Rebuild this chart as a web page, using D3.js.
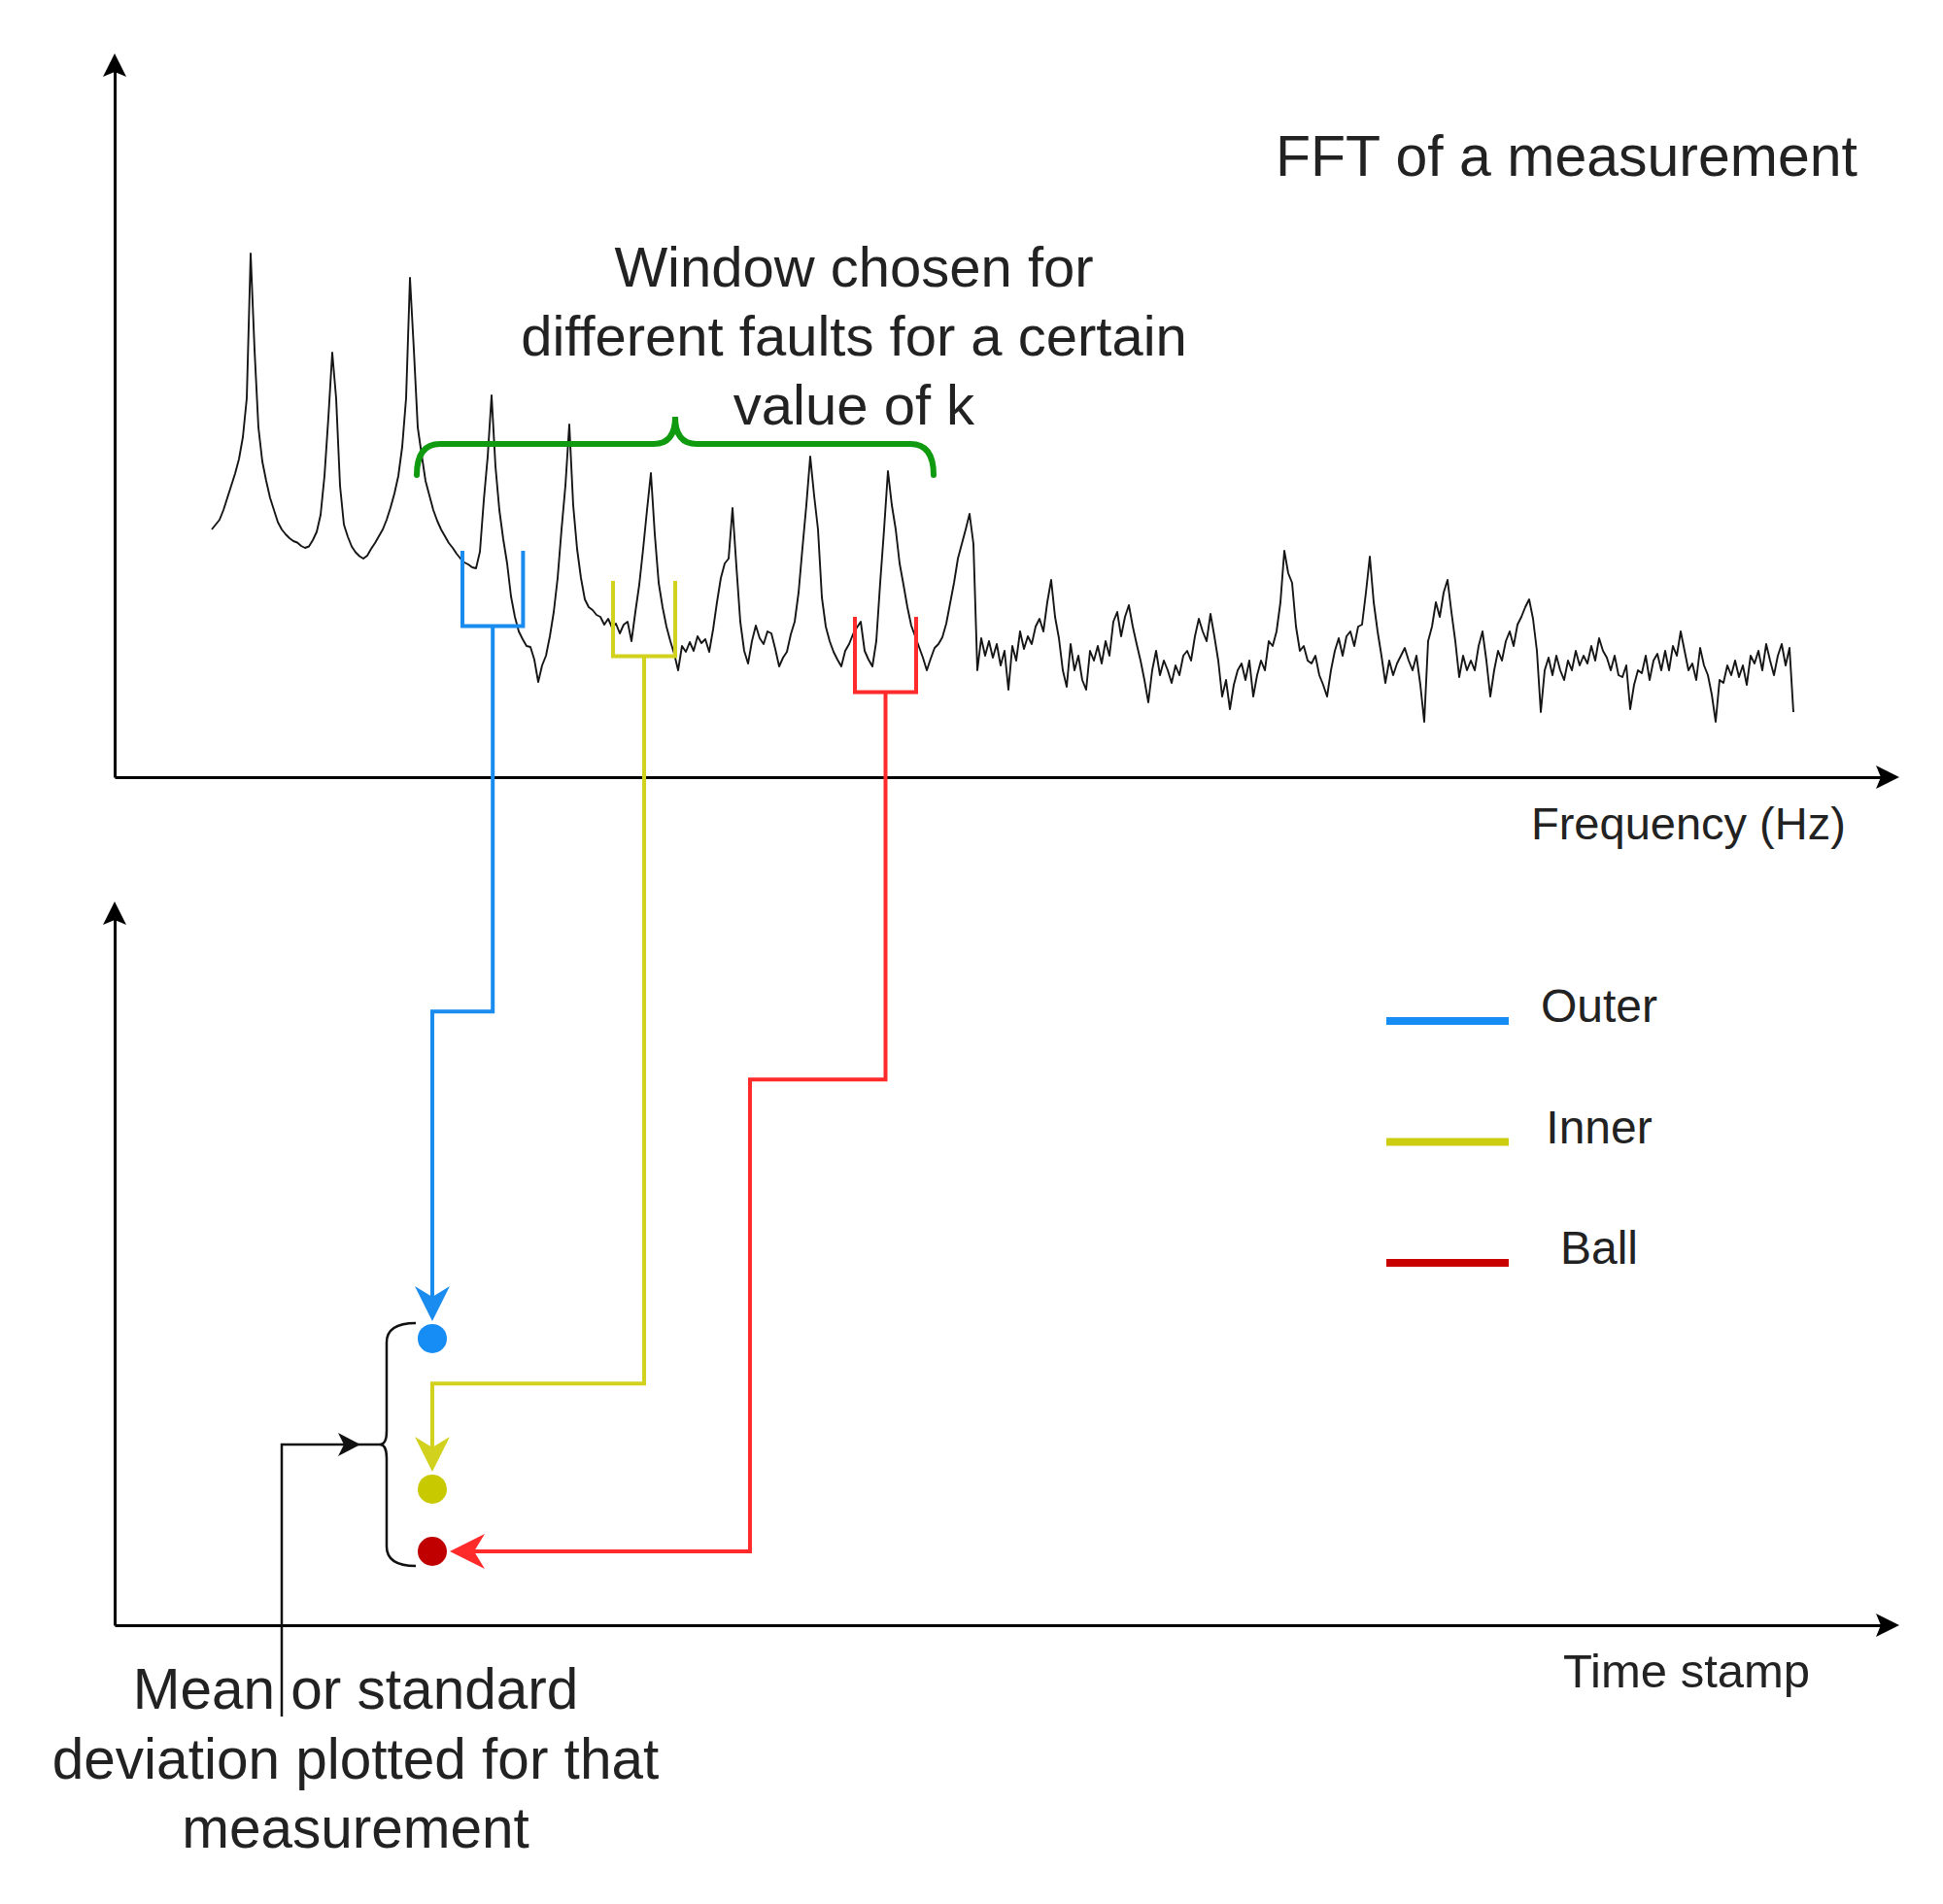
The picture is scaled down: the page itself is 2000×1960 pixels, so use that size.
<!DOCTYPE html>
<html>
<head>
<meta charset="utf-8">
<script src="https://cdn.jsdelivr.net/npm/d3@7"></script>
<style>
  body { margin: 0; background: #fff; }
  text { font-family: "Liberation Sans", Arial, sans-serif; fill: #222; }
</style>
</head>
<body>
<svg width="2000" height="1960"></svg>
<script>
// ---------- DATA ----------
// FFT amplitude, one sample per Hz starting at freqStart
const freqStart = 25;
const amplitude = [
  51, 52, 53, 55, 57.5, 60, 62.5, 65.5, 70, 78,                 // 25
  107.8, 88, 72, 65, 61, 57.5, 55, 52.5, 51, 50,                // 35
  49.2, 48.6, 48.3, 47.6, 47.2, 47.5, 48.8, 50.5, 54, 62,       // 45
  74, 87.4, 78, 60, 52, 49.5, 47.5, 46.3, 45.5, 45,             // 55
  45.6, 47, 48.2, 49.6, 51, 53, 55.5, 58.4, 62, 68,             // 65
  78, 102.8, 88, 72, 66.4, 61, 58, 55, 52.8, 51,                // 75
  49.6, 48.2, 47.2, 46, 45, 44.2, 43.8, 43.2, 43, 46.4,         // 85
  57, 66, 78.6, 64, 55, 49, 44, 37.2, 33, 30,                   // 95
  28.4, 27, 26.8, 24.2, 19.6, 23, 25, 29, 34, 41,               // 105
  51, 60, 72.6, 56, 47, 41, 36.6, 35, 34.4, 33.4,               // 115
  33, 31.4, 32.6, 30.8, 31.6, 29.6, 31.4, 32, 28, 34,           // 125
  39.6, 47, 55, 62.6, 50, 40, 35, 31, 28, 25.4,                 // 135
  22, 27, 25.8, 27.8, 26, 29, 27.6, 28.4, 25.8, 30.4,           // 145
  36, 41, 44, 45, 55.4, 43.4, 32, 26, 23.4, 28,                 // 155
  31.2, 28.6, 27.4, 30, 29.6, 26.4, 22.8, 24.6, 25.8, 29.4,     // 165
  32, 38, 47.2, 56, 66, 58, 51, 37, 31, 28,                     // 175
  25.8, 24.2, 22.8, 26, 27.4, 29.4, 30.8, 32, 26, 24.2,         // 185
  22.8, 28, 40, 51, 63, 56, 51, 44, 39.6, 35,                   // 195
  31.2, 29, 26.8, 24.6, 22, 24.4, 26.6, 27.4, 28.8, 31.6,       // 205
  35.8, 40, 45, 48, 51, 54.2, 48, 22, 28.6, 25,                 // 215
  28, 24.6, 27.4, 23, 26, 18, 27, 24, 30, 26.4,                 // 225
  29, 27.4, 31, 32.6, 30, 36, 40.6, 33, 28.6, 22,               // 235
  18.6, 27.4, 22, 25, 20, 18, 26, 24, 27, 23.4,                 // 245
  28, 25, 32, 34, 29, 33, 35.4, 31, 27.4, 24,                   // 255
  20, 15.4, 22, 26, 21, 24, 22, 19.4, 23, 21,                   // 265
  25, 26, 24, 29, 32.6, 30, 28, 33.6, 29, 24,                   // 275
  16.6, 20, 14, 19, 22, 23.4, 20, 24, 16.6, 21,                 // 285
  24, 22, 28, 27, 30, 36, 46.6, 42, 40, 31,                     // 295
  26, 27, 24, 23.4, 25, 21, 19, 16.6, 22, 26,                   // 305
  28.6, 25, 29, 30, 27, 31, 31.4, 38, 45.4, 36,                 // 315
  30, 25, 19.4, 24, 21, 23.4, 25, 26.6, 24, 22,                 // 325
  25, 19, 11.4, 28, 31, 36, 33, 38, 40.6, 34,                   // 335
  28, 20.6, 25, 22, 24, 22, 27, 30, 24, 16.6,                   // 345
  22, 26, 24, 28, 30, 27, 31.4, 33, 35, 36.6,                   // 355
  32.6, 26, 13.4, 22, 24.6, 21, 25, 22, 20, 24,                 // 365
  22, 26, 23, 25, 23.4, 27, 24, 28.6, 26, 24.6,                 // 375
  22, 25, 21, 20.6, 23, 14, 19, 22, 21.4, 25,                   // 385
  20, 24, 25.4, 22, 26, 22, 27, 25, 30, 26,                     // 395
  22, 23.4, 20, 26.6, 23, 21, 17, 11.4, 20, 19.4,               // 405
  23, 21, 24, 20.6, 23, 19, 25, 23.4, 26, 22,                   // 415
  27.4, 24, 21, 25, 27.4, 23, 26.6, 13.4                        // 425
];

// fault windows (Hz) and the value plotted for that measurement
const faults = ['Outer', 'Inner', 'Ball'];
const lineColors = ['#1a8cf0', '#d2d21e', '#ff2a2a'];
const dotColors = ['#168cf5', '#c9c900', '#c00000'];
const legendColors = ['#168cf5', '#cccc10', '#c80000'];
const windowLo = [89.5, 128.25, 190.5];
const windowHi = [105.1, 144.25, 206.25];
const windowTop = [46.6, 40.4, 33];      // amplitude where the window arms start
const measurementTime = 17.8;
const faultValues = [39.6, 18.8, 10.2];

// ---------- SETUP ----------
const svg = d3.select('svg');
svg.append('rect').attr('width', 2000).attr('height', 1960).attr('fill', '#fff');

const x = d3.scaleLinear().domain([0, 459.25]).range([118, 1955]);
const y = d3.scaleLinear().domain([0, 149]).range([800, 55]);
const t = d3.scaleLinear().domain([0, 100]).range([118, 1955]);
const v = d3.scaleLinear().domain([0, 100]).range([1673, 928]);

// arrow head pointing along angle (deg), tip at (tx, ty)
function arrowHead(g, tx, ty, angle, len, half, notch, color) {
    g.append('path')
        .attr('d', `M0,0 L${-len},${-half} L${-len + notch},0 L${-len},${half} Z`)
        .attr('transform', `translate(${tx},${ty}) rotate(${angle})`)
        .attr('fill', color);
}

// ---------- AXES ----------
const axesG = svg.append('g');
function drawAxes(xs, ys, x0, y0) {
    axesG.append('g')
        .attr('transform', `translate(0,${y0})`)
        .call(d3.axisBottom(xs).tickValues([]).tickSizeOuter(0));
    axesG.append('g')
        .attr('transform', `translate(${x0},0)`)
        .call(d3.axisLeft(ys).tickValues([]).tickSizeOuter(0));
}
drawAxes(d3.scaleLinear().range([x(0), x(459.25) - 16]),
         d3.scaleLinear().range([y(0), y(149) + 16]), x(0), y(0));
drawAxes(d3.scaleLinear().range([t(0), t(100) - 16]),
         d3.scaleLinear().range([v(0), v(100) + 16]), t(0), v(0));
axesG.selectAll('path.domain').attr('stroke', '#000').attr('stroke-width', 3);
arrowHead(axesG, x(459.25), y(0), 0, 24, 12, 5, '#000');
arrowHead(axesG, x(0), y(149), -90, 24, 12, 5, '#000');
arrowHead(axesG, t(100), v(0), 0, 24, 12, 5, '#000');
arrowHead(axesG, t(0), v(100), -90, 24, 12, 5, '#000');

// ---------- SPECTRUM ----------
const line = d3.line()
    .x((d, i) => x(freqStart + i))
    .y(d => y(d));
svg.append('path')
    .datum(amplitude)
    .attr('d', line)
    .attr('fill', 'none')
    .attr('stroke', '#151515')
    .attr('stroke-width', 1.9)
    .attr('stroke-linejoin', 'round');

// ---------- GREEN BRACE over the windows ----------
const bL = x(77.75), bR = x(210.75), bM = (bL + bR) / 2;
const bY = y(68.6), bEnd = y(62.2), bTip = y(74.2);
svg.append('path')
    .attr('d', `M${bL},${bEnd} Q${bL},${bY} ${bL + 24},${bY} L${bM - 22},${bY} ` +
               `Q${bM},${bY} ${bM},${bTip} Q${bM},${bY} ${bM + 22},${bY} ` +
               `L${bR - 24},${bY} Q${bR},${bY} ${bR},${bEnd}`)
    .attr('fill', 'none')
    .attr('stroke', '#0f9a0f')
    .attr('stroke-width', 6)
    .attr('stroke-linecap', 'round');

// ---------- WINDOWS + ROUTES ----------
const depth = 15.5; // amplitude units between arm top and bar
// where each connector turns (bottom-plot units)
const routes = [
    [{ v: 84.8 }],
    [{ v: 33.4 }],
    [{ v: 75.4 }, { t: 35.6 }]
];
const dotX = t(measurementTime);
const r = 15;

faults.forEach((f, i) => {
    const g = svg.append('g');
    const c = lineColors[i];
    const lo = x(windowLo[i]), hi = x(windowHi[i]);
    const top = y(windowTop[i]), bar = y(windowTop[i] - depth);
    const mid = (lo + hi) / 2;
    g.append('path')
        .attr('d', `M${lo},${top} L${lo},${bar} L${hi},${bar} L${hi},${top}`)
        .attr('fill', 'none').attr('stroke', c).attr('stroke-width', 4);

    const dotY = v(faultValues[i]);
    const pts = [[mid, bar]];
    const rt = routes[i];
    let arrow;
    if (i < 2) {
        const ry = v(rt[0].v);
        pts.push([mid, ry], [dotX, ry], [dotX, dotY - r - 28]);
        arrow = [dotX, dotY - r - 3, 90];
    } else {
        const ry = v(rt[0].v), rx = t(rt[1].t);
        pts.push([mid, ry], [rx, ry], [rx, dotY], [dotX + r + 28, dotY]);
        arrow = [dotX + r + 3, dotY, 180];
    }
    g.append('path')
        .attr('d', d3.line()(pts))
        .attr('fill', 'none').attr('stroke', c).attr('stroke-width', 4);
    arrowHead(g, arrow[0], arrow[1], arrow[2], 36, 18, 11, c);

    g.append('circle')
        .attr('cx', dotX).attr('cy', dotY).attr('r', r)
        .attr('fill', dotColors[i]);
});

// ---------- BLACK BRACE + POINTER ----------
const topY = v(faultValues[0]) - r - 1, botY = v(faultValues[2]) + r;
const midY = (topY + botY) / 2;
const bx = dotX - 47;
svg.append('path')
    .attr('d', `M${dotX - 17},${topY} Q${bx},${topY} ${bx},${topY + 20} L${bx},${midY - 14} ` +
               `Q${bx},${midY} ${bx - 7},${midY} Q${bx},${midY} ${bx},${midY + 14} ` +
               `L${bx},${botY - 20} Q${bx},${botY} ${dotX - 17},${botY}`)
    .attr('fill', 'none').attr('stroke', '#111').attr('stroke-width', 2.5);
svg.append('path')
    .attr('d', `M290,1767 L290,${midY} L${bx - 7},${midY}`)
    .attr('fill', 'none').attr('stroke', '#111').attr('stroke-width', 2.5);
arrowHead(svg, 371, midY, 0, 23, 12, 6, '#111');

// ---------- LEGEND ----------
const legendG = svg.append('g');
faults.forEach((f, i) => {
    const ly = 1051 + i * 124.5;
    legendG.append('line')
        .attr('x1', 1427).attr('x2', 1553).attr('y1', ly).attr('y2', ly)
        .attr('stroke', legendColors[i]).attr('stroke-width', 8);
    legendG.append('text')
        .attr('x', 1646).attr('y', ly + 1)
        .attr('text-anchor', 'middle')
        .style('font-size', '48px')
        .text(f);
});

// ---------- TEXT ----------
svg.append('text').attr('x', 1313).attr('y', 181)
    .style('font-size', '59px').text('FFT of a measurement');

function multiline(cx, y0, lh, size, lines) {
    const tx = svg.append('text')
        .attr('text-anchor', 'middle')
        .style('font-size', size + 'px');
    lines.forEach((l, i) => {
        tx.append('tspan').attr('x', cx).attr('y', y0 + i * lh).text(l);
    });
}
multiline(879, 295, 71, 58, ['Window chosen for', 'different faults for a certain', 'value of k']);
multiline(366, 1759, 71.5, 58.5, ['Mean or standard', 'deviation plotted for that', 'measurement']);

svg.append('text').attr('x', 1576).attr('y', 864)
    .style('font-size', '47px').text('Frequency (Hz)');
svg.append('text').attr('x', 1609).attr('y', 1737)
    .style('font-size', '49px').text('Time stamp');
</script>
</body>
</html>
